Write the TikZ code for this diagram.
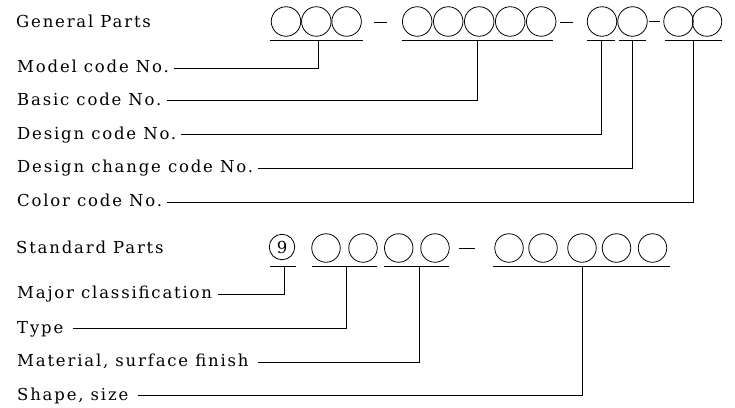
\documentclass[tikz,border=0pt]{standalone}
\usepackage{fontspec}
\setmainfont[LetterSpace=11]{DejaVu Serif}
\begin{document}
\begin{tikzpicture}[x=1pt,y=-1pt,
  lbl/.style={anchor=base west,inner sep=0pt,font=\fontsize{16.5}{19}\selectfont},
  digit/.style={draw,circle,line width=0.8pt,minimum size=29.5pt,inner sep=0pt},
  sdigit/.style={draw,circle,line width=0.8pt,minimum size=28.5pt,inner sep=0pt},
  ul/.style={line width=0.8pt},
  conn/.style={line width=0.8pt}]
\useasboundingbox (0,0) rectangle (735,407);
% ---------- General Parts ----------
\node[lbl] (gp) at (16,27) {General Parts};
\foreach \n/\x in {a1/286,a2/316.3,a3/346.6,
                   b1/417.2,b2/448.2,b3/479.2,b4/510.2,b5/541.2,
                   c1/602,c2/632.5,d1/678.5,d2/707}
  \node[digit] (\n) at (\x,21.5) {};
\draw[ul] (374,22) -- (386.7,22);
\draw[ul] (560,22) -- (573,22);
\draw[ul] (649,21) -- (660,21);
\draw[ul] (270,40) -- (363,40);
\draw[ul] (401.7,40) -- (553,40);
\draw[ul] (587,40) -- (615,40);
\draw[ul] (619,40) -- (646,40);
\draw[ul] (665,40) -- (722,40);
\coordinate (tm) at (318,40);
\coordinate (tb) at (477,40);
\coordinate (td) at (601.7,40);
\coordinate (tdc) at (632.5,40);
\coordinate (tc) at (693.3,40);
\node[lbl] (lm) at (17,72.5) {Model code No.};
\node[lbl] (lb) at (17,105) {Basic code No.};
\node[lbl] (ld) at (17,139) {Design code No.};
\node[lbl] (ldc) at (17,172.5) {Design change code No.};
\node[lbl] (lc) at (17,206.5) {Color code No.};
\draw[conn] ([shift={(5pt,4.5pt)}]lm.base east) -| (tm);
\draw[conn] ([shift={(5pt,4.5pt)}]lb.base east) -| (tb);
\draw[conn] ([shift={(5pt,4.5pt)}]ld.base east) -| (td);
\draw[conn] ([shift={(5pt,4.5pt)}]ldc.base east) -| (tdc);
\draw[conn] ([shift={(5pt,4.5pt)}]lc.base east) -| (tc);
% ---------- Standard Parts ----------
\node[lbl] (sp) at (16,253.3) {Standard Parts};
\node[draw,circle,line width=0.8pt,minimum size=25.5pt,inner sep=0pt,
      font=\fontsize{16.5}{19}\selectfont] (n9) at (282,247) {9};
\foreach \n/\x in {e1/326,e2/363,f1/398.7,f2/435,
                   g1/509,g2/543,g3/582,g4/616.5,g5/652.5}
  \node[sdigit] (\n) at (\x,248) {};
\draw[ul] (459,248) -- (475,248);
\draw[ul] (270,266.5) -- (296,266.5);
\draw[ul] (311.7,266.5) -- (377,266.5);
\draw[ul] (384,266.5) -- (449,266.5);
\draw[ul] (493,266.5) -- (670,266.5);
\coordinate (tmj) at (284,266.5);
\coordinate (tty) at (346,266.5);
\coordinate (tma) at (419.3,266.5);
\coordinate (tsh) at (582,266.5);
\node[lbl] (lmj) at (17,298.5) {Major classification};
\node[lbl] (lty) at (17,333) {Type};
\node[lbl] (lma) at (17,366.5) {Material, surface finish};
\node[lbl] (lsh) at (17,400) {Shape, size};
\draw[conn] ([shift={(6pt,4.5pt)}]lmj.base east) -| (tmj);
\draw[conn] ([shift={(9pt,4.5pt)}]lty.base east) -| (tty);
\draw[conn] ([shift={(9pt,4.5pt)}]lma.base east) -| (tma);
\draw[conn] ([shift={(9pt,4.5pt)}]lsh.base east) -| (tsh);
\end{tikzpicture}
\end{document}
